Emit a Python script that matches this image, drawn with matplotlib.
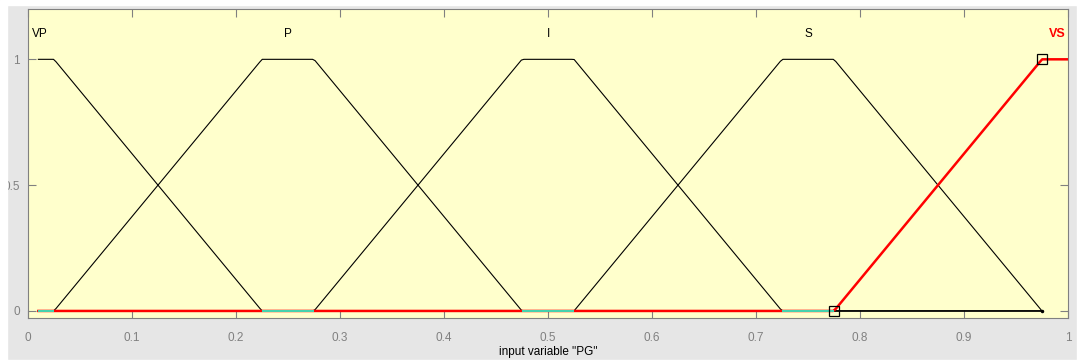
import numpy as np
import matplotlib
matplotlib.use("Agg")
import matplotlib.pyplot as plt
from matplotlib.patches import Rectangle

# membership functions (trapmf) of input variable "PG"
mf_names = ["VP", "P", "I", "S", "VS"]
mf_params = [[-0.2, 0.0, 0.025, 0.225],
             [0.025, 0.225, 0.275, 0.475],
             [0.275, 0.475, 0.525, 0.725],
             [0.525, 0.725, 0.775, 0.975],
             [0.775, 0.975, 1.0, 1.2]]
label_x = [0.004, 0.25, 0.5, 0.75, 0.998]
x_ticks = [0, 0.1, 0.2, 0.3, 0.4, 0.5, 0.6, 0.7, 0.8, 0.9, 1]
y_ticks = [0, 0.5, 1]
gap_segments = [[0.01, 0.025], [0.225, 0.275], [0.475, 0.525], [0.725, 0.775]]

def trapmf(x, p):
    return np.interp(x, p, [0, 1, 1, 0])

plt.rcParams['font.family'] = ['Liberation Sans', 'DejaVu Sans']
fig = plt.figure(figsize=(10.8, 3.63), dpi=100, facecolor='#e6e6e6')
ax = fig.add_axes([28/1080, 1-318/363, 1040/1080, 309/363])
ax.set_facecolor('#ffffcc')

xs = np.linspace(0.01, 0.975, 400)
for i in range(4):
    ax.plot(xs, trapmf(xs, mf_params[i]), color='black', lw=0.8, zorder=2)
ax.plot(0.975, 0, 'k.', ms=3, zorder=2)

# selected MF in red
xr = np.linspace(0.01, 1.0, 400)
ax.plot(xr, trapmf(xr, mf_params[4]), color='red', lw=1.8, zorder=3)
for seg in gap_segments:
    ax.plot(seg, [0, 0], color='#30e8c0', lw=1.3, zorder=4, solid_capstyle='butt')
ax.plot([mf_params[4][0], mf_params[4][1]], [0, 1], ls='none', marker='s', ms=7,
        mfc='none', mec='black', mew=0.9, zorder=5)

for i, name in enumerate(mf_names):
    if i == 4:
        ax.text(label_x[i], 1.1, name, color='red', fontweight='bold', fontsize=9,
                ha='right', va='center')
    elif i == 0:
        ax.text(label_x[i], 1.1, name, fontsize=8.5, ha='left', va='center')
    else:
        ax.text(label_x[i], 1.1, name, fontsize=8.5, ha='center', va='center')

ax.set_xlim(0, 1)
ax.set_ylim(-0.028, 1.2)
ax.set_xticks(x_ticks)
ax.set_xticklabels(['0', '0.1', '0.2', '0.3', '0.4', '0.5', '0.6', '0.7', '0.8', '0.9', '1'])
ax.set_yticks(y_ticks)
ax.set_yticklabels(['0', '0.5', '1'])
ax.tick_params(direction='in', top=True, right=True, length=6, width=0.8,
               colors='#808080', labelsize=8.5)
ax.tick_params(axis='x', pad=10)
ax.tick_params(axis='y', pad=6)
for s in ax.spines.values():
    s.set_color('#808080')
ax.set_xlabel('input variable "PG"', fontsize=8.5, labelpad=1.5)

# white border around the window
for r in [(0, 0, 7/1080, 1), (0, 1-5/363, 1, 5/363), (1-3/1080, 0, 3/1080, 1), (0, 0, 1, 3/363)]:
    fig.patches.append(Rectangle(r[:2], r[2], r[3], transform=fig.transFigure,
                                 color='white', zorder=10))

fig.savefig('out.png', dpi=100, facecolor=fig.get_facecolor())
